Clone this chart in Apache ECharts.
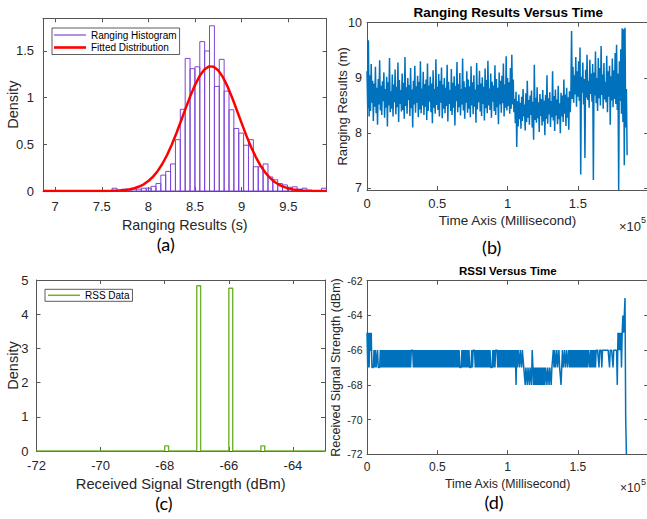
<!DOCTYPE html>
<html><head><meta charset="utf-8">
<script src="https://cdn.jsdelivr.net/npm/echarts@6/dist/echarts.min.js"></script>
<style>html,body{margin:0;padding:0;background:#fff}#c{width:647px;height:519px}</style>
</head><body><div id="c"></div>
<script>
// ---------- (a) ranging histogram ----------
const rangeBinStart = 7.611;
const rangeBinWidth = 0.0522;
const rangeDensity = [0.03,0,0.02,0,0.02,0.02,0.03,0.03,0.05,0.08,
 0.17,0.21,0.29,0.55,0.875,1.42,1.31,1.33,1.6,1.5,
 1.77,1.12,1.41,1.07,0.87,0.67,0.62,0.49,0.55,0.26,
 0.26,0.29,0.15,0.12,0.08,0.065,0.04,0.045,0.02,0.03,
 0.01,0,0,0.03];
const fitX = [6.87,7.50,7.55,7.60,7.65,7.70,7.75,7.80,7.85,7.90,7.95,8.00,8.05,8.10,8.15,8.20,8.25,8.30,8.35,8.40,8.45,8.50,8.55,8.60,8.65,8.70,8.75,8.80,8.85,8.90,8.95,9.00,9.05,9.10,9.15,9.20,9.25,9.30,9.35,9.40,9.45,9.50,9.55,9.60,9.65,9.70,9.80,9.91];
const fitY = [0,0.0004,0.001,0.002,0.004,0.007,0.011,0.019,0.030,0.048,0.072,0.107,0.154,0.215,0.292,0.386,0.496,0.619,0.752,0.888,1.019,1.137,1.234,1.302,1.335,1.331,1.291,1.217,1.115,0.993,0.860,0.725,0.593,0.472,0.366,0.275,0.201,0.143,0.099,0.067,0.044,0.028,0.017,0.010,0.006,0.003,0.001,0];
const ticksAX = [7,7.5,8,8.5,9,9.5];
const ticksAY = [0,0.5,1,1.5];

// ---------- (b) ranging vs time ----------
const rangeTimeStepMs = 500;
const rangeValues = [
9.12,8.45,9.68,8.30,9.05,8.40,9.25,8.55,8.95,8.22,
8.90,8.48,9.20,8.36,8.82,8.15,8.98,8.52,9.32,8.41,
8.86,8.33,8.94,8.58,9.10,8.28,8.80,8.46,9.02,8.12,
8.92,8.50,9.36,8.38,8.76,8.44,9.06,8.30,8.88,8.56,
9.15,8.34,8.84,8.47,9.28,8.20,8.96,8.53,8.78,8.39,
9.08,8.42,8.91,8.26,9.38,8.49,8.83,8.35,9.00,8.60,
8.87,8.31,9.18,8.45,8.79,8.10,8.95,8.52,9.22,8.37,
8.85,8.55,9.04,8.29,8.93,8.43,9.30,8.36,8.81,8.50,
9.11,8.33,8.89,8.48,8.97,8.24,9.26,8.40,8.86,8.57,
9.02,8.38,8.90,8.18,9.14,8.46,8.80,8.35,9.34,8.51,
8.84,8.42,9.07,8.30,8.95,8.55,9.19,8.27,8.88,8.44,
9.00,8.36,8.82,8.49,9.24,8.21,8.93,8.53,8.78,8.40,
9.16,8.33,8.91,8.46,9.03,8.14,8.86,8.58,9.29,8.38,
8.89,8.47,9.09,8.32,8.80,8.52,9.35,8.41,8.94,8.26,
8.83,8.55,9.12,8.37,8.97,8.44,8.85,8.29,9.21,8.50,
8.92,8.34,9.05,8.48,8.79,8.19,9.27,8.43,8.87,8.56,
9.13,8.39,8.90,8.31,9.01,8.53,8.84,8.23,9.17,8.45,
8.96,8.36,9.31,8.50,8.81,8.42,9.08,8.28,8.93,8.57,
8.86,8.40,9.23,8.33,8.98,8.47,8.82,8.16,9.10,8.52,
8.95,8.37,9.04,8.54,9.26,8.30,8.88,8.46,9.39,8.41,
9.00,8.49,8.92,8.35,9.18,8.44,9.42,8.52,8.97,8.38,
8.62,8.18,8.75,7.75,8.58,8.12,8.70,8.25,8.55,8.08,
8.66,8.22,8.80,8.30,8.52,8.05,8.72,8.20,8.95,8.28,
8.60,8.15,8.68,8.33,8.77,8.10,8.57,7.88,9.24,8.24,
8.64,8.19,8.83,8.27,8.56,8.02,8.71,8.31,8.62,8.14,
8.78,8.21,8.59,7.96,8.69,8.26,9.05,8.17,8.63,8.34,
8.74,8.11,8.58,8.29,9.12,8.23,8.67,8.04,8.79,8.32,
8.61,8.16,8.86,8.25,8.54,8.00,8.73,8.30,8.68,8.20,
8.97,8.35,8.70,8.13,8.82,8.28,8.65,8.06,8.76,8.38,
8.70,
9.85,8.62,9.20,8.55,9.05,8.70,9.38,8.48,9.12,8.66,
9.30,8.58,9.55,7.25,9.02,8.73,9.28,8.52,8.98,7.55,
9.15,8.64,9.42,8.60,8.95,8.46,9.33,8.71,9.08,8.57,
9.25,7.15,9.10,8.68,9.48,8.54,9.00,8.40,9.36,8.63,
9.18,8.50,9.58,8.69,9.06,8.44,9.27,8.61,8.93,8.56,
9.40,8.38,9.12,8.66,9.22,8.15,9.03,8.59,9.35,8.47,
9.14,8.62,9.45,8.53,9.60,8.42,9.08,6.97,9.30,8.58,
9.52,8.35,9.90,8.20,9.88,7.42,9.91,8.10,8.80,7.60];
const ticksBY = [7,8,9,10];

// ---------- (c) RSS histogram ----------
const rssRange = [-72, -63];
const rssBinLeft = [-68, -67, -66, -65];
const rssBinWidth = 0.12;
const rssDensity = [0.15, 4.83, 4.76, 0.15];
const ticksCX = [-72,-70,-68,-66,-64];

// ---------- (d) RSSI vs time ----------
const rssiTimeStepMs = 500;
const rssiValues = [
-65,-67,-65,-67,-65,-66,-65,-67,-67,-67,
-66,-67,-66,-67,-67,-66,-67,-67,-67,-66,
-67,-66,-67,-66,-67,-66,-67,-66,-67,-66,
-67,-66,-67,-66,-67,-66,-67,-66,-67,-66,
-67,-66,-67,-66,-67,-66,-67,-66,-67,-66,
-67,-66,-67,-66,-67,-66,-67,-66,-67,-66,
-67,-66,-67,-66,-66,-66,-67,-66,-67,-66,
-67,-66,-67,-66,-67,-66,-67,-66,-67,-66,
-67,-66,-67,-66,-67,-66,-67,-66,-67,-66,
-67,-66,-67,-66,-67,-66,-67,-66,-67,-66,
-67,-66,-67,-66,-67,-66,-67,-66,-67,-66,
-67,-66,-67,-66,-67,-66,-67,-66,-67,-66,
-67,-66,-67,-66,-67,-66,-67,-66,-67,-66,
-67,-66,-67,-67,-67,-66,-67,-66,-67,-66,
-67,-66,-67,-66,-67,-66,-67,-67,-67,-66,
-67,-66,-66,-66,-67,-66,-67,-66,-67,-66,
-67,-66,-67,-66,-67,-66,-67,-66,-67,-66,
-67,-66,-67,-66,-67,-66,-67,-67,-67,-66,
-67,-66,-67,-66,-66,-66,-67,-66,-67,-66,
-67,-66,-67,-66,-67,-66,-67,-66,-67,-66,
-67,-66,-67,-66,-67,-66,-67,-66,-67,-66,
-67,-66,-68,-66,-67,-66,-66,-67,-66,-66,
-67,-66,-66,-67,-67,-68,-67,-67,-68,-67,
-67,-68,-67,-67,-68,-66,-67,-68,-67,-68,
-67,-68,-67,-68,-67,-68,-67,-68,-67,-68,
-67,-68,-67,-68,-67,-67,-68,-67,-67,-68,
-67,-67,-68,-67,-67,-66,-67,-66,-67,-67,
-66,-67,-67,-66,-67,-67,-68,-67,-66,-67,
-67,-66,-67,-67,-66,-67,-67,-66,-67,-66,
-67,-66,-67,-66,-67,-66,-67,-66,-67,-66,
-67,-66,-67,-66,-67,-66,-67,-66,-67,-66,
-67,-66,-67,-66,-67,-66,-66,-67,-66,-67,
-66,-67,-66,-67,-66,-67,-66,-66,-66,-66,
-67,-66,-66,-66,-67,-66,-66,-66,-66,-66,
-66,-66,-66,-66,-66,-67,-66,-66,-66,-66,
-67,-66,-66,-66,-66,-66,-68,-65,-66,-65,
-66,-65,-67,-65,-64,-65,-64,-63,-70,-72];

// ---------- styling ----------
const FONT = "'Liberation Sans', Arial, Helvetica, sans-serif";
const AX = '#555';
const TXT = '#262626';
const PURPLE = '#7D46D8';
const RED = '#ff0000';
const BLUE = '#0072BD';
const GREEN = '#6FB02C';

function axisPair(dim, g, o) {
  const main = dim === 'x' ? 'bottom' : 'left';
  const mirror = dim === 'x' ? 'top' : 'right';
  const line = {show:true, onZero:false, lineStyle:{color:AX, width:1}};
  const tick = {show:true, inside:true, length:4, lineStyle:{color:AX, width:1}};
  if (o.ticks) tick.customValues = o.ticks;
  const lab = {show:true, margin:o.margin, color:TXT, fontSize:o.fs, fontFamily:FONT,
    showMaxLabel: o.showMax === false ? false : undefined};
  if (o.ticks) lab.customValues = o.ticks;
  if (o.fmt) lab.formatter = o.fmt;
  const base = {gridIndex:g, type:'value', min:o.min, max:o.max, splitLine:{show:false}};
  if (o.interval) base.interval = o.interval;
  return [
    Object.assign({}, base, {position:main, axisLine:line, axisTick:tick, axisLabel:lab,
      name:o.name, nameLocation:'middle', nameGap:o.nameGap, nameMoveOverlap:false,
      nameTextStyle:{color:TXT, fontSize:o.nfs, lineHeight:o.nfs, fontFamily:FONT}}),
    Object.assign({}, base, {position:mirror, axisLine:line, axisTick:tick, axisLabel:{show:false}})
  ];
}
const timeFmt = v => String(+(v / 1e5).toFixed(2));

const xAxis = [].concat(
  axisPair('x', 0, {min:6.87, max:9.91, ticks:ticksAX, margin:8.5, fs:13, name:'Ranging Results (s)', nameGap:27, nfs:14.3}),
  axisPair('x', 1, {min:0, max:200000, interval:50000, fmt:timeFmt, showMax:false, margin:7, fs:13, name:'Time Axis (Millisecond)', nameGap:24, nfs:13.5}),
  axisPair('x', 2, {min:rssRange[0], max:rssRange[1], ticks:ticksCX, margin:7.7, fs:13, name:'Received Signal Strength (dBm)', nameGap:25.5, nfs:14.7}),
  axisPair('x', 3, {min:0, max:200000, interval:50000, fmt:timeFmt, showMax:false, margin:6.5, fs:12, name:'Time Axis (Millisecond)', nameGap:23.5, nfs:12.3})
);
const yAxis = [].concat(
  axisPair('y', 0, {min:0, max:1.85, ticks:ticksAY, margin:9, fs:13, name:'Density', nameGap:22.5, nfs:14.5}),
  axisPair('y', 1, {min:6.97, max:10, ticks:ticksBY, margin:5, fs:12.5, name:'Ranging Results (m)', nameGap:18, nfs:13}),
  axisPair('y', 2, {min:0, max:5, interval:1, margin:8, fs:13, name:'Density', nameGap:16, nfs:14.5}),
  axisPair('y', 3, {min:-72, max:-62, interval:2, margin:4.5, fs:10.5, name:'Received Signal Strength (dBm)', nameGap:24.5, nfs:12.5})
);

// built from data arrays
const histData = rangeDensity.map((h, k) => [rangeBinStart + k * rangeBinWidth, rangeBinStart + (k + 1) * rangeBinWidth, h]);
const fitData = fitX.map((x, i) => [x, fitY[i]]);
const rangeData = rangeValues.map((v, i) => [i * rangeTimeStepMs, v]);
const rssiData = rssiValues.map((v, i) => [i * rssiTimeStepMs, v]);
const rssStairs = [[rssRange[0], 0]];
rssBinLeft.forEach((l, k) => {
  const r = l + rssBinWidth, h = rssDensity[k];
  rssStairs.push([l, 0], [l, h], [r, h], [r, 0]);
});
rssStairs.push([rssRange[1], 0]);

const option = {
  animation: false,
  backgroundColor: '#fff',
  grid: [
    {left:43, top:18.3, width:283.6, height:172.7, outerBoundsMode:'none'},
    {left:367, top:22.7, width:281.2, height:167.3, outerBoundsMode:'none'},
    {left:36.5, top:280, width:288.5, height:171, outerBoundsMode:'none'},
    {left:367, top:280.7, width:281.2, height:173.6, outerBoundsMode:'none'}
  ],
  xAxis: xAxis,
  yAxis: yAxis,
  legend: [
    {left:52, top:28, orient:'vertical', selectedMode:false,
     itemWidth:32, itemHeight:10, itemGap:2.5, padding:[2,3,2,2],
     borderColor:'#333', borderWidth:0.8, backgroundColor:'#fff',
     textStyle:{fontSize:10, fontFamily:FONT, color:'#000'},
     data:[{name:'Ranging Histogram', icon:'path://M0,0H32V1.2H0Z', itemStyle:{color:PURPLE}},
           {name:'Fitted Distribution', icon:'path://M0,0H32V2.6H0Z', itemStyle:{color:RED}}]},
    {left:45, top:289.3, orient:'vertical', selectedMode:false,
     itemWidth:32, itemHeight:10, padding:[1,3,1,3],
     borderColor:'#333', borderWidth:0.8, backgroundColor:'#fff',
     textStyle:{fontSize:10, fontFamily:FONT, color:'#000'},
     data:[{name:'RSS Data', icon:'path://M0,0H32V1.5H0Z', itemStyle:{color:GREEN}}]}
  ],
  series: [
    {type:'custom', name:'Ranging Histogram', xAxisIndex:0, yAxisIndex:0, data:histData,
     encode:{x:[0,1], y:2}, itemStyle:{color:PURPLE}, z:2, clip:true,
     renderItem: function (params, api) {
       const p0 = api.coord([api.value(0), api.value(2)]);
       const p1 = api.coord([api.value(1), 0]);
       return {type:'rect', shape:{x:p0[0], y:p0[1], width:p1[0]-p0[0], height:p1[1]-p0[1]},
               style:{fill:'none', stroke:PURPLE, lineWidth:1}};
     }},
    {type:'line', name:'Fitted Distribution', xAxisIndex:0, yAxisIndex:0, data:fitData,
     showSymbol:false, symbol:'none', z:3, lineStyle:{color:RED, width:2.5}, itemStyle:{color:RED}},
    {type:'line', name:'Ranging', xAxisIndex:2, yAxisIndex:2, data:rangeData,
     showSymbol:false, symbol:'none', lineStyle:{color:BLUE, width:1.5}, itemStyle:{color:BLUE}},
    {type:'line', name:'RSS Data', xAxisIndex:4, yAxisIndex:4, data:rssStairs,
     showSymbol:false, symbol:'none', lineStyle:{color:GREEN, width:1.4}, itemStyle:{color:GREEN}},
    {type:'line', name:'RSSI', xAxisIndex:6, yAxisIndex:6, data:rssiData,
     showSymbol:false, symbol:'none', lineStyle:{color:BLUE, width:1.5}, itemStyle:{color:BLUE}}
  ],
  graphic: [
    {type:'text', x:508.3, y:12, style:{text:'Ranging Results Versus Time', align:'center', verticalAlign:'middle', fill:'#000', font:"bold 13.5px 'Liberation Sans', Arial, sans-serif"}},
    {type:'text', x:507.8, y:271, style:{text:'RSSI Versus Time', align:'center', verticalAlign:'middle', fill:'#000', font:"bold 11.5px 'Liberation Sans', Arial, sans-serif"}},
    {type:'text', x:165.8, y:244, style:{text:'(a)', align:'center', verticalAlign:'middle', fill:'#000', font:"18px Lato, 'Open Sans', sans-serif"}},
    {type:'text', x:491.7, y:246.5, style:{text:'(b)', align:'center', verticalAlign:'middle', fill:'#000', font:"18px Lato, 'Open Sans', sans-serif"}},
    {type:'text', x:164, y:502.5, style:{text:'(c)', align:'center', verticalAlign:'middle', fill:'#000', font:"18px Lato, 'Open Sans', sans-serif"}},
    {type:'text', x:494, y:502, style:{text:'(d)', align:'center', verticalAlign:'middle', fill:'#000', font:"18px Lato, 'Open Sans', sans-serif"}},
    {type:'text', x:619, y:226, style:{text:'×10', align:'left', verticalAlign:'middle', fill:TXT, font:"13px 'Liberation Sans', Arial, sans-serif"}},
    {type:'text', x:641, y:220, style:{text:'5', align:'left', verticalAlign:'middle', fill:TXT, font:"9px 'Liberation Sans', Arial, sans-serif"}},
    {type:'text', x:620, y:488, style:{text:'×10', align:'left', verticalAlign:'middle', fill:TXT, font:"12px 'Liberation Sans', Arial, sans-serif"}},
    {type:'text', x:641, y:482, style:{text:'5', align:'left', verticalAlign:'middle', fill:TXT, font:"9px 'Liberation Sans', Arial, sans-serif"}}
  ]
};
const chart = echarts.init(document.getElementById('c'), null, {renderer:'svg'});
chart.setOption(option);
</script>
</body></html>
